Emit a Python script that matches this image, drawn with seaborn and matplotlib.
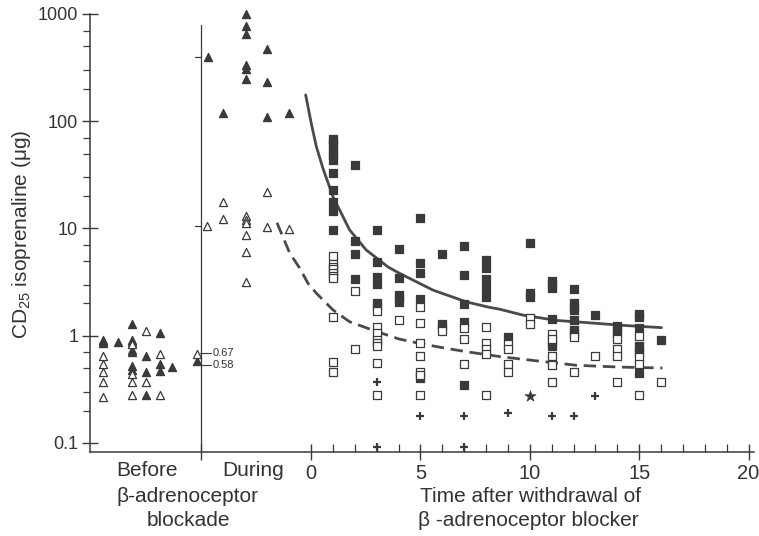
import numpy as np
import pandas as pd
import seaborn as sns
import matplotlib.pyplot as plt
from matplotlib.ticker import FixedLocator, FixedFormatter, NullFormatter

sns.set_style('ticks')
plt.rcParams['font.family'] = ['Liberation Sans', 'DejaVu Sans']
plt.rcParams['mathtext.default'] = 'regular'

INK = '#3a3a3a'
TXT = '#333333'

# ---- data ---------------------------------------------------------------
# x positions inside the "Before" / "During" bands are just column offsets
before_filled_x = [-9.52] * 3 + [-8.85] + [-8.17] * 7 + [-7.53] * 3 + [-6.92] * 3 + [-6.37]
before_filled_y = [0.92, 0.89, 0.85, 0.87,
                   1.29, 0.92, 0.88, 0.74, 0.70, 0.52, 0.48,
                   0.65, 0.46, 0.28, 1.05, 0.55, 0.47, 0.51]
before_open_x = [-9.52] * 5 + [-8.17] * 4 + [-7.53] * 2 + [-6.92] * 2
before_open_y = [0.65, 0.55, 0.46, 0.37, 0.27, 0.83, 0.44, 0.37, 0.28, 1.11, 0.37, 0.67, 0.28]

mean_x = -5.23
mean_open = 0.67
mean_filled = 0.58
mean_labels = ['0.67', '0.58']

during_filled_x = [-4.71, -4.03] + [-3.0] * 6 + [-2.0] * 3 + [-1.01]
during_filled_y = [400, 120, 1000, 770, 650, 335, 310, 250, 470, 234, 109, 119]
during_open_x = [-4.76] + [-4.03] * 2 + [-3.0] * 6 + [-2.0] * 2 + [-1.01]
during_open_y = [10.5, 17.5, 12.2, 13.1, 12.0, 11.3, 8.7, 6.1, 3.2, 22, 10.4, 9.8]
during_mean_ticks = [400, 10.5]

# days after withdrawal
after_filled_day = ([1] * 11 + [2] * 4 + [3] * 6 + [4] * 5 + [5] * 5 + [6] * 3 + [7] * 5 + [8] * 5
                    + [9] + [10] * 3 + [11] * 6 + [12] * 7 + [13] + [14] * 3 + [15] * 7 + [16])
after_filled_val = [69, 64, 60, 52, 48, 43.5, 32.7, 22.9, 17.8, 14.7, 9.7,
                    39, 7.7, 5.8, 3.38,
                    9.7, 4.9, 3.55, 3.03, 2.01, 1.89,
                    6.5, 3.45, 2.4, 2.23, 2.05,
                    12.4, 4.8, 3.85, 2.19, 0.40,
                    5.8, 1.3, 1.24,
                    6.9, 3.68, 1.97, 1.35, 0.35,
                    5.1, 4.26, 3.36, 2.77, 2.28,
                    0.98,
                    7.3, 2.52, 2.31,
                    3.26, 3.03, 2.81, 1.42, 0.85, 0.80,
                    2.73, 2.02, 1.87, 1.73, 1.39, 1.14, 1.06,
                    1.56,
                    1.24, 1.14, 1.05,
                    1.58, 1.48, 1.17, 0.81, 0.76, 0.69, 0.45,
                    0.91]
after_open_day = ([1] * 10 + [2] * 2 + [3] * 8 + [4] + [5] * 7 + [6] + [7] * 3 + [8] * 5 + [9] * 4
                  + [10] * 2 + [11] * 5 + [12] * 2 + [13] + [14] * 4 + [15] * 4 + [16])
after_open_val = [5.57, 4.66, 4.4, 4.17, 3.88, 3.61, 3.43, 1.51, 0.565, 0.46,
                  2.63, 0.76,
                  1.71, 1.21, 1.05, 0.91, 0.86, 0.81, 0.56, 0.28,
                  1.4,
                  1.84, 1.31, 0.85, 0.65, 0.46, 0.43, 0.28,
                  1.11,
                  1.17, 0.93, 0.55,
                  1.2, 0.85, 0.75, 0.68, 0.28,
                  0.83, 0.75, 0.55, 0.46,
                  1.46, 1.29,
                  1.04, 0.93, 0.65, 0.53, 0.37,
                  0.98, 0.46,
                  0.65,
                  0.93, 0.76, 0.65, 0.37,
                  1.0, 0.64, 0.55, 0.28,
                  0.37]
plus_day = [3, 3, 5, 7, 7, 9, 11, 12, 13]
plus_val = [0.37, 0.092, 0.18, 0.18, 0.092, 0.19, 0.18, 0.18, 0.275]
star_day = [10]
star_val = [0.275]

# fitted curves
solid_x = [-0.25, 0.01, 0.24, 0.54, 1.0, 1.76, 2.52, 3.05, 3.5, 4.04, 4.5, 5.56, 7.09, 8.15,
           8.61, 9.67, 11.2, 12.72, 14.24, 16.02]
solid_y = [176, 95, 58, 36.4, 19.8, 9.7, 6.3, 5.2, 4.4, 3.82, 3.43, 2.67, 2.07, 1.84,
           1.77, 1.56, 1.39, 1.32, 1.25, 1.19]
dashed_x = [-1.56, -0.98, -0.53, -0.15, 0.24, 1.0, 1.76, 3.02, 4.04, 5.06, 6.06, 7.09,
            8.61, 10.1, 12.14, 14.13, 16.06]
dashed_y = [11.3, 5.9, 4.3, 3.1, 2.49, 1.74, 1.35, 1.09, 0.93, 0.84, 0.77, 0.71,
            0.64, 0.59, 0.53, 0.51, 0.50]

# ---- figure ---------------------------------------------------------------
fig = plt.figure(figsize=(7.59, 5.36), dpi=100)
ax = fig.add_axes([90 / 759, 1 - 452 / 536, 664 / 759, 438 / 536])
ax.set_yscale('log')

tri = dict(marker='^', s=34, linewidth=0.9, edgecolor=INK, clip_on=False, ax=ax, zorder=3)
sq = dict(marker='s', s=30, linewidth=0.9, edgecolor=INK, clip_on=False, ax=ax, zorder=3)

sns.scatterplot(x=before_filled_x, y=before_filled_y, color=INK, **tri)
sns.scatterplot(x=before_open_x, y=before_open_y, color='white', **tri)
sns.scatterplot(x=[mean_x], y=[mean_filled], color=INK, **tri)
sns.scatterplot(x=[mean_x], y=[mean_open], color='white', **tri)
sns.scatterplot(x=during_filled_x, y=during_filled_y, color=INK, **tri)
sns.scatterplot(x=during_open_x, y=during_open_y, color='white', **tri)

sns.scatterplot(x=after_filled_day, y=after_filled_val, color=INK, **sq)
sns.scatterplot(x=after_open_day, y=after_open_val, color='white', **sq)
sns.scatterplot(x=plus_day, y=plus_val, marker='+', s=40, linewidth=1.6, color=INK,
                clip_on=False, ax=ax, zorder=3)
sns.scatterplot(x=star_day, y=star_val, marker='*', s=70, linewidth=0.5, color=INK,
                edgecolor=INK, clip_on=False, ax=ax, zorder=3)

sns.lineplot(x=solid_x, y=solid_y, sort=False, estimator=None, color='#4a4a4a', lw=2.0, ax=ax)
sns.lineplot(x=dashed_x, y=dashed_y, sort=False, estimator=None, color='#4a4a4a', lw=2.0,
             ax=ax, dashes=False, linestyle=(0, (4.5, 2.4)))

# divider between "Before" and "During"
ax.plot([-5.05, -5.05], [0.0824, 790], color=INK, lw=0.9)
for v in during_mean_ticks:
    ax.plot([-5.3, -5.05], [v, v], color=INK, lw=0.9)
# leader lines + labels for the pre-blockade means (labels spread slightly apart)
for v, lab in zip([0.69, 0.53], mean_labels):
    ax.plot([-5.1, -4.57], [v, v], color=INK, lw=0.8)
    ax.text(-4.52, v, lab, fontsize=8, color=TXT, ha='left', va='center')

ax.set_xlim(-10.11, 20.25)
ax.set_ylim(0.0824, 1000)
sns.despine(ax=ax)
for s in ['left', 'bottom']:
    ax.spines[s].set_color(INK)
    ax.spines[s].set_linewidth(1.1)

ax.xaxis.set_major_locator(FixedLocator([-5.05, 0, 5, 10, 15, 20]))
ax.xaxis.set_major_formatter(FixedFormatter(['', '0', '5', '10', '15', '20']))
ax.xaxis.set_minor_locator(FixedLocator([d for d in range(1, 20) if d % 5]))
ax.yaxis.set_major_locator(FixedLocator([0.1, 1, 10, 100, 1000]))
ax.yaxis.set_major_formatter(FixedFormatter(['0.1', '1', '10', '100', '1000']))
ax.yaxis.set_minor_locator(FixedLocator([m * 10.0 ** e for e in range(-1, 3) for m in (2, 3, 5, 7)]))
ax.yaxis.set_minor_formatter(NullFormatter())

ax.tick_params(axis='x', which='major', direction='inout', length=11, width=1, color=INK,
               labelsize=14.5, labelcolor=TXT, pad=3)
ax.tick_params(axis='x', which='minor', direction='in', length=6, width=0.9, color=INK)
ax.tick_params(axis='y', which='major', direction='inout', length=11, width=1, color=INK,
               labelsize=13, labelcolor=TXT, pad=3)
ax.tick_params(axis='y', which='minor', direction='out', length=5, width=0.9, color=INK)

# category labels below the axis
fig.text(146.5 / 759, 1 - 470 / 536, 'Before', fontsize=15, color=TXT, ha='center', va='center')
fig.text(253 / 759, 1 - 470 / 536, 'During', fontsize=15, color=TXT, ha='center', va='center')
fig.text(188 / 759, 1 - 497 / 536, 'β-adrenoceptor', fontsize=15, color=TXT, ha='center', va='center')
fig.text(188 / 759, 1 - 521 / 536, 'blockade', fontsize=15, color=TXT, ha='center', va='center')
fig.text(530 / 759, 1 - 497 / 536, 'Time after withdrawal of', fontsize=15, color=TXT,
         ha='center', va='center')
fig.text(528 / 759, 1 - 521 / 536, 'β -adrenoceptor blocker', fontsize=15, color=TXT,
         ha='center', va='center')
fig.text(22 / 759, 1 - 234 / 536, 'CD$_{25}$ isoprenaline (μg)', fontsize=15, color=TXT,
         rotation=90, ha='center', va='center')

fig.savefig('out.png', dpi=100)
